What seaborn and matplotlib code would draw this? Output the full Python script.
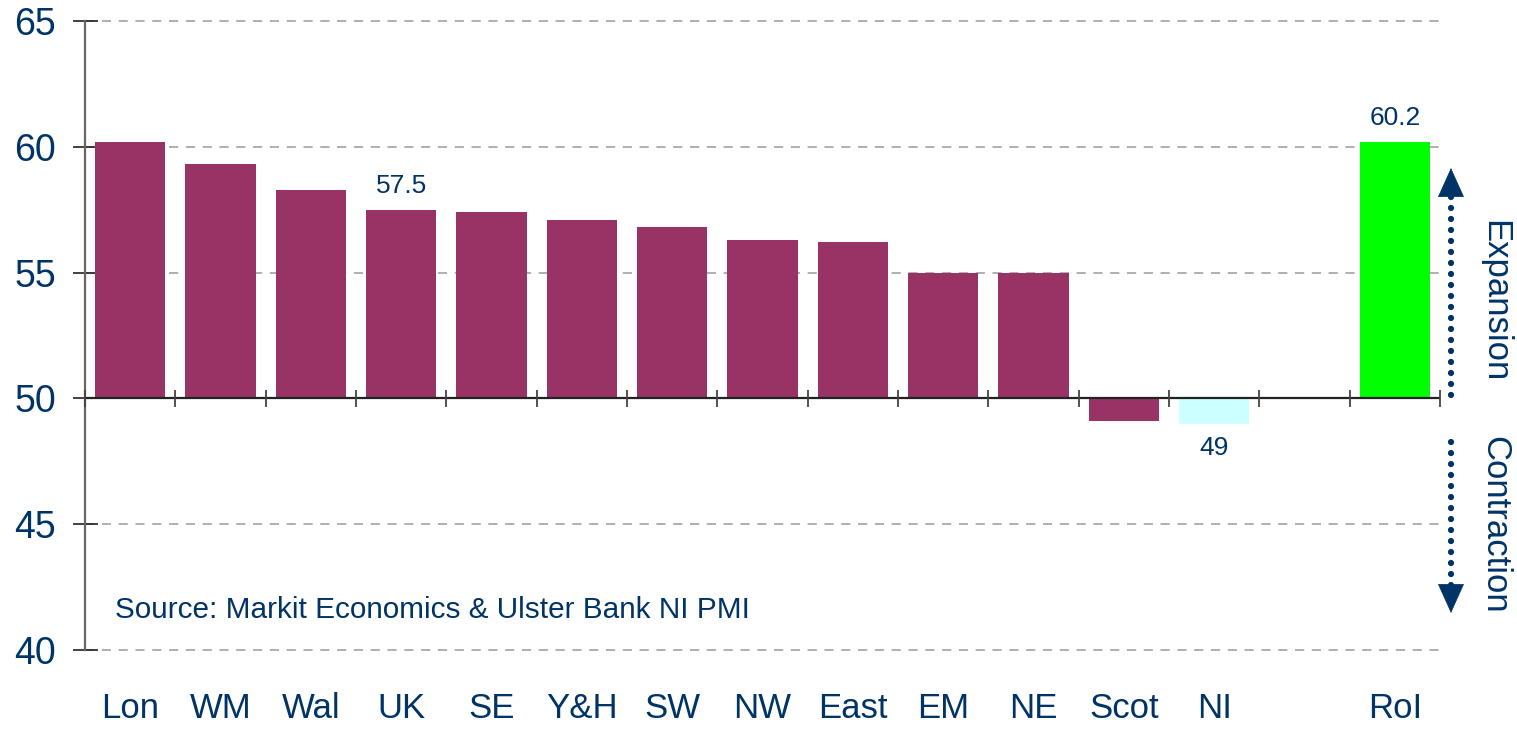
import matplotlib
matplotlib.use("Agg")
import matplotlib.pyplot as plt
import seaborn as sns
import numpy as np
import pandas as pd

regions = ["Lon", "WM", "Wal", "UK", "SE", "Y&H", "SW", "NW", "East", "EM", "NE", "Scot", "NI", "RoI"]
pmi = [60.2, 59.3, 58.3, 57.5, 57.4, 57.1, 56.8, 56.3, 56.2, 55.0, 55.0, 49.1, 49.0, 60.2]
order = ["Lon", "WM", "Wal", "UK", "SE", "Y&H", "SW", "NW", "East", "EM", "NE", "Scot", "NI", " ", "RoI"]
yticks = [40, 45, 50, 55, 60, 65]
labelled = {"UK": "57.5", "RoI": "60.2", "NI": "49"}

BASE = 50
NAVY = "#003366"
MAROON = "#993366"
colors = {r: MAROON for r in regions}
colors["NI"] = "#CCFFFF"
colors["RoI"] = "#00FF00"

df = pd.DataFrame({"region": regions, "dev": np.array(pmi) - BASE})

sns.set_theme(style="white")
plt.rcParams["font.family"] = ["Liberation Sans", "DejaVu Sans"]

fig = plt.figure(figsize=(15.17, 7.29), dpi=100)
ax = fig.add_axes([85 / 1517, 1 - 650 / 729, (1440 - 85) / 1517, (650 - 21) / 729])

sns.barplot(data=df, x="region", y="dev", hue="region", order=order, hue_order=regions,
            palette=colors, legend=False, width=0.78, ax=ax, saturation=1, linewidth=0)

ax.set_ylim(yticks[0] - BASE, yticks[-1] - BASE)
ax.set_xlim(-0.5, len(order) - 0.5)
ax.set_yticks([t - BASE for t in yticks])
ax.set_yticklabels([str(t) for t in yticks])
for t in yticks:
    ax.axhline(t - BASE, color="#9a9a9a", lw=1.1, ls=(0, (6, 5)), zorder=0, clip_on=False)

# baseline axis line with category-boundary ticks
ax.axhline(0, color="#222222", lw=1.6, zorder=3)
bounds = np.arange(len(order) + 1) - 0.5
ax.vlines(bounds, -0.35, 0.35, color="#444444", lw=1.3, zorder=3, clip_on=False)

for s in ["top", "right", "bottom"]:
    ax.spines[s].set_visible(False)
ax.spines["left"].set_color("#666666")
ax.spines["left"].set_linewidth(1.6)

ax.tick_params(axis="y", direction="inout", length=18, width=1.2, color="#222222",
               labelsize=27, labelcolor=NAVY, pad=12, left=True)
ax.tick_params(axis="x", length=0, labelsize=25, labelcolor=NAVY, pad=30)
ax.set_xlabel("")
ax.set_ylabel("")

for r, v in zip(regions, pmi):
    if r in labelled:
        i = order.index(r)
        d = v - BASE
        off = 0.45 if d > 0 else -0.5
        ax.text(i, d + off, labelled[r], ha="center", va="bottom" if d > 0 else "top",
                fontsize=19, color=NAVY)

ax.text(0.022, 0.064, "Source: Markit Economics & Ulster Bank NI PMI", transform=ax.transAxes,
        fontsize=21.4, color=NAVY, ha="left", va="center")

# expansion / contraction dotted arrows
AX = 1.0081
def px(y):
    return (650 - y) / 629

for y0, y1, tip, tail in [(395, 192, 168, 190), (442, 592, 613, 591)]:
    ax.plot([AX, AX], [px(y0), px(y1)], transform=ax.transAxes, color=NAVY, lw=4.5,
            ls=(0, (0.01, 1.75)), dash_capstyle="round", clip_on=False)
    ax.annotate("", xy=(AX, px(tip)), xytext=(AX, px(tail)), xycoords="axes fraction",
                arrowprops=dict(arrowstyle="-|>,head_length=1.0,head_width=0.45",
                                color=NAVY, lw=0.5, mutation_scale=20, shrinkA=0, shrinkB=0),
                annotation_clip=False)

ax.text(1.0406, px(301), "Expansion", transform=ax.transAxes, rotation=-90, fontsize=25,
        color=NAVY, ha="center", va="center")
ax.text(1.0406, px(525), "Contraction", transform=ax.transAxes, rotation=-90, fontsize=25,
        color=NAVY, ha="center", va="center")

fig.savefig("out.png", dpi=100)
